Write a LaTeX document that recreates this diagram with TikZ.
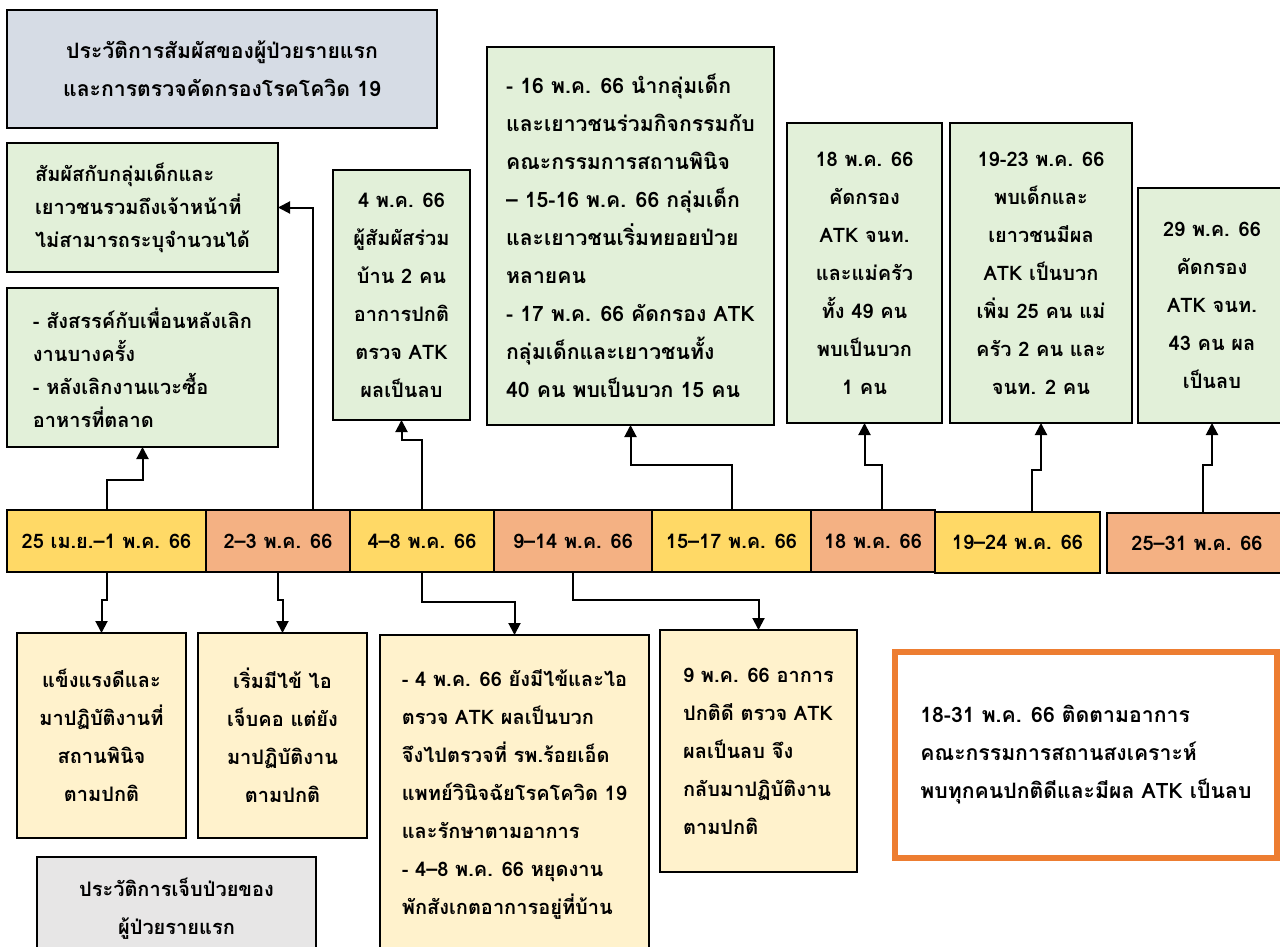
\documentclass[tikz,border=0pt]{standalone}
\usepackage{fontspec}
\setmainfont[Script=Thai]{Loma}
\usepackage{xcolor}
\usetikzlibrary{arrows.meta, positioning}

\definecolor{headblue}{HTML}{D6DCE5}
\definecolor{seagreen}{HTML}{E2F0D9}
\definecolor{cream}{HTML}{FFF2CC}
\definecolor{gold}{HTML}{FFD966}
\definecolor{salmon}{HTML}{F4B183}
\definecolor{ashgray}{HTML}{E7E6E6}
\definecolor{orangeline}{HTML}{ED7D31}

\begin{document}
\begin{tikzpicture}[% styles used in the timeline
         x = 1pt, y = -1pt,
         > = {Triangle[length=12pt, width=12pt]},
every node/.style = {font=\fontsize{20}{38}\selectfont\bfseries},
tight/.style = {font=\fontsize{20}{33}\selectfont\bfseries},
large/.style = {font=\fontsize{21.2}{38}\selectfont\bfseries},
box/.style args = {#1/#2}{draw, line width=2pt,
                          anchor=north west,
                          minimum width=#1pt, minimum height=#2pt,
                          inner sep=0pt, outer sep=0pt},
cell/.style args = {#1/#2}{draw, line width=1.2pt,
                           anchor=north west,
                           minimum width=#1pt, minimum height=#2pt,
                           inner sep=0pt, outer sep=0pt},
link/.style = {->, line width=2pt}
                        ]
	\useasboundingbox (0,0) rectangle (1280,947);
	\clip (0,0) rectangle (1280,947);

	% title boxes
	\node[box=430/118, fill=headblue, align=center, large] (head) at (7,10)
		{ประวัติการสัมผัสของผู้ป่วยรายแรก\\และการตรวจคัดกรองโรคโควิด 19};
	\node[box=279/104, fill=ashgray, align=center] (ill) at (37,857)
		{ประวัติการเจ็บป่วยของ\\ผู้ป่วยรายแรก};

	% exposure boxes (above)
	\node[box=271/129, fill=seagreen, align=left, tight] (con) at (7,143)
		{สัมผัสกับกลุ่มเด็กและ\\เยาวชนรวมถึงเจ้าหน้าที่\\ไม่สามารถระบุจำนวนได้};
	\node[box=271/159, fill=seagreen, align=left, tight] (meet) at (7,288)
		{- สังสรรค์กับเพื่อนหลังเลิก\\งานบางครั้ง\\- หลังเลิกงานแวะซื้อ\\อาหารที่ตลาด};
	\node[box=137/250, fill=seagreen, align=center] (home) at (333,170)
		{4 พ.ค. 66\\ผู้สัมผัสร่วม\\บ้าน 2 คน\\อาการปกติ\\ตรวจ ATK\\ผลเป็นลบ};
	\node[box=287/378, fill=seagreen, align=left, large] (camp) at (487,47)
		{- 16 พ.ค. 66 นำกลุ่มเด็ก\\และเยาวชนร่วมกิจกรรมกับ\\คณะกรรมการสถานพินิจ\\– 15-16 พ.ค. 66 กลุ่มเด็ก\\และเยาวชนเริ่มทยอยป่วย\\หลายคน\\- 17 พ.ค. 66 คัดกรอง ATK\\กลุ่มเด็กและเยาวชนทั้ง\\40 คน พบเป็นบวก 15 คน};
	\node[box=155/300, fill=seagreen, align=center] (staff) at (787,123)
		{18 พ.ค. 66\\คัดกรอง\\ATK จนท.\\และแม่ครัว\\ทั้ง 49 คน\\พบเป็นบวก\\1 คน};
	\node[box=182/300, fill=seagreen, align=center] (pos) at (950,123)
		{19-23 พ.ค. 66\\พบเด็กและ\\เยาวชนมีผล\\ATK เป็นบวก\\เพิ่ม 25 คน แม่\\ครัว 2 คน และ\\จนท. 2 คน};
	\node[box=148/235, fill=seagreen, align=center] (neg) at (1138,188)
		{29 พ.ค. 66\\คัดกรอง\\ATK จนท.\\43 คน ผล\\เป็นลบ};

	% timeline
	\node[cell=199/62, fill=gold]   (d1) at (7,510)    {25 เม.ย.–1 พ.ค. 66};
	\node[cell=144/62, fill=salmon] (d2) at (206,510)  {2–3 พ.ค. 66};
	\node[cell=144/62, fill=gold]   (d3) at (350,510)  {4–8 พ.ค. 66};
	\node[cell=158/62, fill=salmon] (d4) at (494,510)  {9–14 พ.ค. 66};
	\node[cell=159/62, fill=gold]   (d5) at (652,510)  {15–17 พ.ค. 66};
	\node[cell=124/62, fill=salmon] (d6) at (811,510)  {18 พ.ค. 66};
	\node[cell=165/61, fill=gold]   (d7) at (935,512)  {19–24 พ.ค. 66};
	\node[cell=180/60, fill=salmon] (d8) at (1107,513) {25–31 พ.ค. 66};

	% illness boxes (below)
	\node[box=169/205, fill=cream, align=center] (y1) at (17,633)
		{แข็งแรงดีและ\\มาปฏิบัติงานที่\\สถานพินิจ\\ตามปกติ};
	\node[box=169/205, fill=cream, align=center] (y2) at (198,633)
		{เริ่มมีไข้ ไอ\\เจ็บคอ แต่ยัง\\มาปฏิบัติงาน\\ตามปกติ};
	\node[box=269/318, fill=cream, align=left] (y3) at (380,635)
		{- 4 พ.ค. 66 ยังมีไข้และไอ\\ตรวจ ATK ผลเป็นบวก\\จึงไปตรวจที่ รพ.ร้อยเอ็ด\\แพทย์วินิจฉัยโรคโควิด 19\\และรักษาตามอาการ\\- 4–8 พ.ค. 66 หยุดงาน\\พักสังเกตอาการอยู่ที่บ้าน};
	\node[box=197/242, fill=cream, align=left] (y4) at (660,630)
		{9 พ.ค. 66 อาการ\\ปกติดี ตรวจ ATK\\ผลเป็นลบ จึง\\กลับมาปฏิบัติงาน\\ตามปกติ};
	\node[box=382/206, draw=orangeline, line width=6pt, fill=white, align=left, large] (follow) at (895,652)
		{18-31 พ.ค. 66 ติดตามอาการ\\คณะกรรมการสถานสงเคราะห์\\พบทุกคนปกติดีและมีผล ATK เป็นลบ};

	% links above the timeline
	\draw[link] (d1.north) -- ++(0,-30) -| (meet.south);
	\draw[link] ([xshift=35pt]d2.north) |- (con.east);
	\draw[link] (d3.north) -- ++(0,-70) -| (home.south);
	\draw[link] (d5.north) -- ++(0,-45) -| (camp.south);
	\draw[link] ([xshift=9pt]d6.north) -- ++(0,-45) -| (staff.south);
	\draw[link] ([xshift=14pt]d7.north) -- ++(0,-42) -| (pos.south);
	\draw[link] ([xshift=6pt]d8.north) -- ++(0,-48) -| (neg.south);

	% links below the timeline
	\draw[link] (d1.south) -- ++(0,28) -| (y1.north);
	\draw[link] (d2.south) -- ++(0,28) -| (y2.north);
	\draw[link] (d3.south) -- ++(0,30) -| (y3.north);
	\draw[link] (d4.south) -- ++(0,28) -| (y4.north);
\end{tikzpicture}
\end{document}
